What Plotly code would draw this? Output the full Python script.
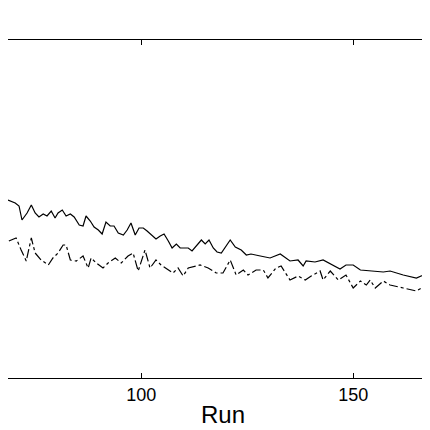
import plotly.graph_objects as go

# values; y is depth in chart pixels (axis reversed)
solid_run = [68.6, 70.3, 71.2, 71.9, 73.1, 74.1, 75.0, 75.9, 76.9, 77.8,
             78.8, 79.7, 80.4, 81.4, 82.3, 83.3, 84.2, 85.4, 86.3, 87.0,
             88.0, 88.9, 89.9, 90.8, 91.7, 92.7, 93.6, 94.6, 95.8, 96.7,
             97.6, 98.6, 99.5, 100.5, 101.4, 102.4, 103.5, 104.5, 105.4, 106.4,
             107.3, 108.3, 109.2, 110.1, 111.1, 112.0, 113.0, 114.2, 115.1, 116.0,
             117.0, 117.9, 118.9,
             121.0, 122.2, 123.6, 124.8, 125.9, 128.1, 130.4, 132.8, 135.1, 137.0,
             138.2, 138.9, 141.0, 142.9, 144.8, 146.9, 148.3, 150.0, 151.7, 154.0,
             157.1, 158.7, 161.8, 164.9, 167.7, 168.9, 170.0]
solid_val = [192, 195, 198, 212, 205, 197, 205, 209, 206, 208,
             203, 210, 205, 202, 208, 206, 209, 217, 218, 208,
             213, 219, 222, 226, 214, 218, 218, 225, 227, 222,
             215, 227, 220, 220, 223, 227, 231, 228, 226, 233,
             240, 236, 240, 240, 240, 243, 238, 232, 236, 232,
             240, 244, 245,
             232, 239, 242, 247, 246, 248, 250, 246, 253, 252,
             258, 253, 254, 252, 256, 261, 257, 257, 262, 263,
             264, 263, 267, 270, 265, 270, 271]

dash_run = [68.8, 69.3, 70.5, 71.7, 72.9, 74.1, 75.0, 76.4, 78.1, 79.2,
            80.4, 81.6, 82.3, 83.3, 84.7, 86.3, 87.5, 88.2, 89.4, 91.0,
            92.2, 93.9, 95.3, 96.9, 98.1, 99.3, 100.9, 102.1, 103.5, 104.7,
            106.4, 107.5, 108.7, 109.9, 111.1, 113.9, 115.8, 117.7, 119.3, 121.0,
            122.4, 124.1, 125.2, 127.1, 128.8, 129.9, 131.8, 133.0, 135.1, 137.0,
            138.7, 140.1, 142.2, 142.9, 144.6, 146.5, 148.3, 150.0, 151.7, 153.1,
            154.0, 155.2, 157.1, 158.7, 161.8, 164.9, 167.0, 168.2, 169.4]
dash_val = [233, 232, 230, 242, 253, 230, 245, 252, 257, 250,
            245, 237, 237, 252, 253, 248, 260, 250, 255, 260,
            255, 250, 255, 248, 245, 263, 242, 260, 252, 257,
            262, 265, 260, 268, 260, 257, 260, 265, 265, 252,
            267, 262, 267, 262, 262, 270, 260, 258, 272, 268,
            272, 268, 263, 272, 263, 272, 267, 280, 273, 277,
            272, 280, 273, 277, 280, 283, 278, 277, 290]

fig = go.Figure()
fig.add_trace(go.Scatter(x=solid_run, y=solid_val, mode="lines",
                         line=dict(color="black", width=1.2)))
fig.add_trace(go.Scatter(x=dash_run, y=dash_val, mode="lines",
                         line=dict(color="black", width=1.2, dash="dashdot")))

fig.update_layout(
    width=430, height=430, showlegend=False,
    margin=dict(l=0, r=0, t=32, b=60),
    plot_bgcolor="white", paper_bgcolor="white",
    font=dict(family="Arial, Liberation Sans", color="black"),
)
fig.update_xaxes(range=[68.6, 170.0], tickvals=[100, 150],
                 ticks="inside", ticklen=5, tickcolor="black", showline=True,
                 linecolor="black", linewidth=1.2, mirror="ticks",
                 showgrid=False, zeroline=False,
                 tickfont=dict(size=18),
                 title=dict(text="Run", font=dict(size=24), standoff=2))
fig.update_yaxes(range=[370, 32], showticklabels=False, showgrid=False,
                 zeroline=False, showline=False, ticks="")
fig.write_html("out.html")
